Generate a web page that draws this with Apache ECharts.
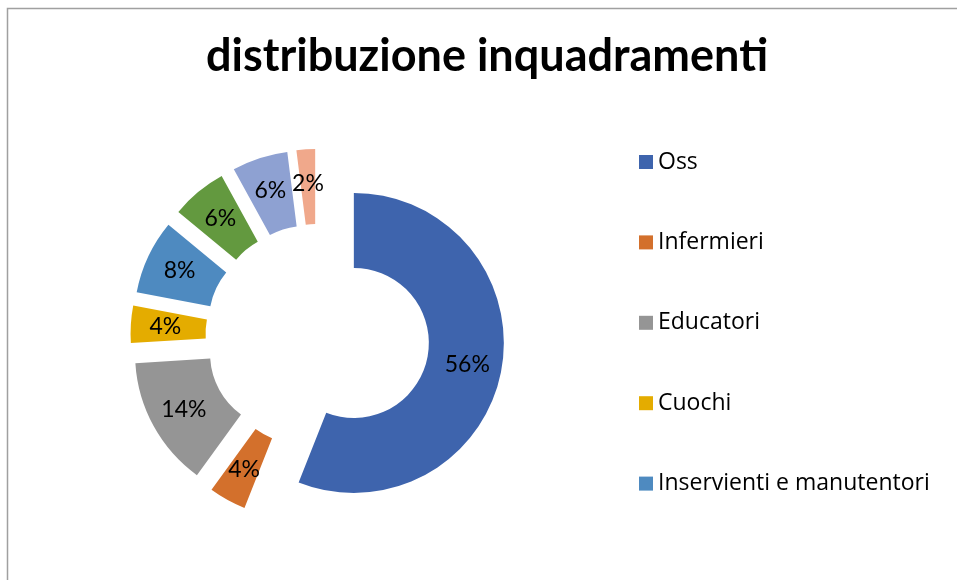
<!DOCTYPE html>
<html>
<head>
<meta charset="utf-8">
<script src="https://cdn.jsdelivr.net/npm/echarts@6/dist/echarts.min.js"></script>
<style>
html,body{margin:0;padding:0;background:#fff;}
#chart{width:957px;height:580px;}
</style>
</head>
<body>
<div id="chart"></div>
<script>
var categories = ['Oss', 'Infermieri', 'Educatori', 'Cuochi', 'Inservienti e manutentori', 'Animatori', 'Fisioterapisti', 'Amministrativi'];
var values = [56, 4, 14, 4, 8, 6, 6, 2];
var colors = ['#3E64AD', '#D3702C', '#959595', '#E4AC00', '#4E8AC0', '#63993F', '#8EA1D2', '#F0A88B'];
var legendNames = categories.slice(0, 5);
var titleText = 'distribuzione inquadramenti';

var chart = echarts.init(document.getElementById('chart'));
var data = categories.map(function (c, i) {
  return {
    name: c,
    value: values[i],
    selected: true,
    itemStyle: { color: colors[i] },
    select: { itemStyle: { color: colors[i] } }
  };
});
chart.setOption({
  animation: false,
  backgroundColor: '#ffffff',
  title: {
    text: titleText,
    left: 206,
    top: 34,
    padding: 0,
    textStyle: { fontFamily: 'Lato', fontWeight: 'bold', fontSize: 45, color: '#000' }
  },
  legend: {
    data: legendNames,
    orient: 'vertical',
    left: 634,
    top: 145.5,
    itemWidth: 14,
    itemHeight: 14,
    itemGap: 57.4,
    icon: 'rect',
    selectedMode: false,
    textStyle: { fontFamily: 'Open Sans', fontSize: 23, color: '#000' }
  },
  graphic: [{
    type: 'polyline',
    shape: { points: [[7.5, 580], [7.5, 8.5], [957, 8.5]] },
    style: { stroke: '#a0a0a0', lineWidth: 1.5, fill: null },
    silent: true
  }],
  series: [{
    type: 'pie',
    center: [317.5, 336],
    radius: [75, 150],
    startAngle: 90,
    clockwise: true,
    selectedMode: 'multiple',
    selectedOffset: 37,
    avoidLabelOverlap: false,
    emphasis: { disabled: true },
    labelLayout: { hideOverlap: false },
    label: {
      show: true,
      position: 'inside',
      fontFamily: 'Lato',
      fontSize: 23,
      color: '#000',
      formatter: function (p) { return Math.round(p.percent) + '%'; }
    },
    select: { label: { color: '#000' } },
    labelLine: { show: false },
    data: data
  }]
});
</script>
</body>
</html>
